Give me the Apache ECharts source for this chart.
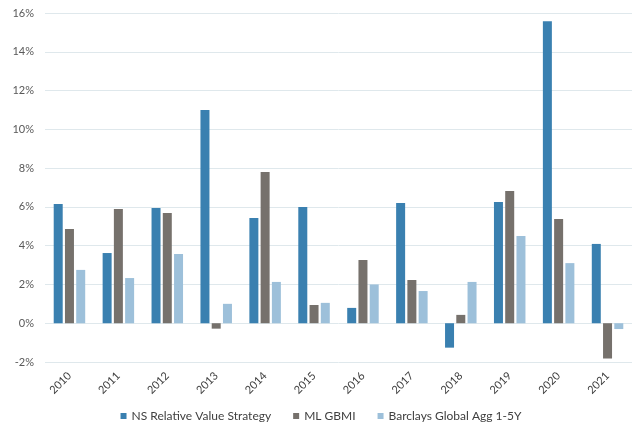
<!DOCTYPE html>
<html>
<head>
    <meta charset="UTF-8">
    <title></title>
    <script src="https://cdn.jsdelivr.net/npm/echarts@6/dist/echarts.min.js"></script>
    <style>
        html, body { margin: 0; padding: 0; background: #fff; }
    </style>
</head>
<body>
<div id="main" style="width: 642px;height:437px;"></div>
<script type="text/javascript">
    var years = ['2010', '2011', '2012', '2013', '2014', '2015', '2016', '2017', '2018', '2019', '2020', '2021'];
    var nsRelativeValue = [6.15, 3.62, 5.94, 11.0, 5.43, 6.0, 0.79, 6.2, -1.26, 6.25, 15.58, 4.09];
    var mlGbmi = [4.86, 5.89, 5.69, -0.28, 7.8, 0.94, 3.26, 2.23, 0.43, 6.82, 5.38, -1.82];
    var barclaysAgg = [2.75, 2.33, 3.57, 1.0, 2.13, 1.05, 2.0, 1.66, 2.13, 4.5, 3.1, -0.3];

    var myChart = echarts.init(document.getElementById('main'));
    var font = 'Lato';
    option = {
        animation: false,
        grid: { left: 45, right: 10, top: 13, bottom: 75, containLabel: false },
        legend: {
            bottom: 10,
            left: 'center',
            itemWidth: 6,
            itemHeight: 6,
            itemGap: 22,
            icon: 'rect',
            textStyle: { color: '#404040', fontSize: 12, fontFamily: font },
            data: ['NS Relative Value Strategy', 'ML GBMI', 'Barclays Global Agg 1-5Y']
        },
        xAxis: {
            type: 'category',
            data: years,
            axisLine: { show: false },
            axisTick: { show: false },
            axisLabel: { rotate: 45, color: '#404040', fontSize: 11, fontFamily: font, margin: 12 }
        },
        yAxis: {
            type: 'value',
            min: -2,
            max: 16,
            interval: 2,
            axisLine: { show: false },
            axisTick: { show: false },
            axisLabel: { formatter: '{value}%', color: '#595959', fontSize: 11, fontFamily: font, margin: 11 },
            splitLine: { lineStyle: { color: '#dfe8ec', width: 1 } }
        },
        series: [{
            name: 'NS Relative Value Strategy',
            type: 'bar',
            data: nsRelativeValue,
            barWidth: 9,
            barGap: '25%',
            itemStyle: { color: '#3a80b0' }
        }, {
            name: 'ML GBMI',
            type: 'bar',
            data: mlGbmi,
            barWidth: 9,
            barGap: '25%',
            itemStyle: { color: '#76716c' }
        }, {
            name: 'Barclays Global Agg 1-5Y',
            type: 'bar',
            data: barclaysAgg,
            barWidth: 9,
            barGap: '25%',
            itemStyle: { color: '#9dc0da' }
        }]
    };
    myChart.setOption(option);
</script>
</body>
</html>
